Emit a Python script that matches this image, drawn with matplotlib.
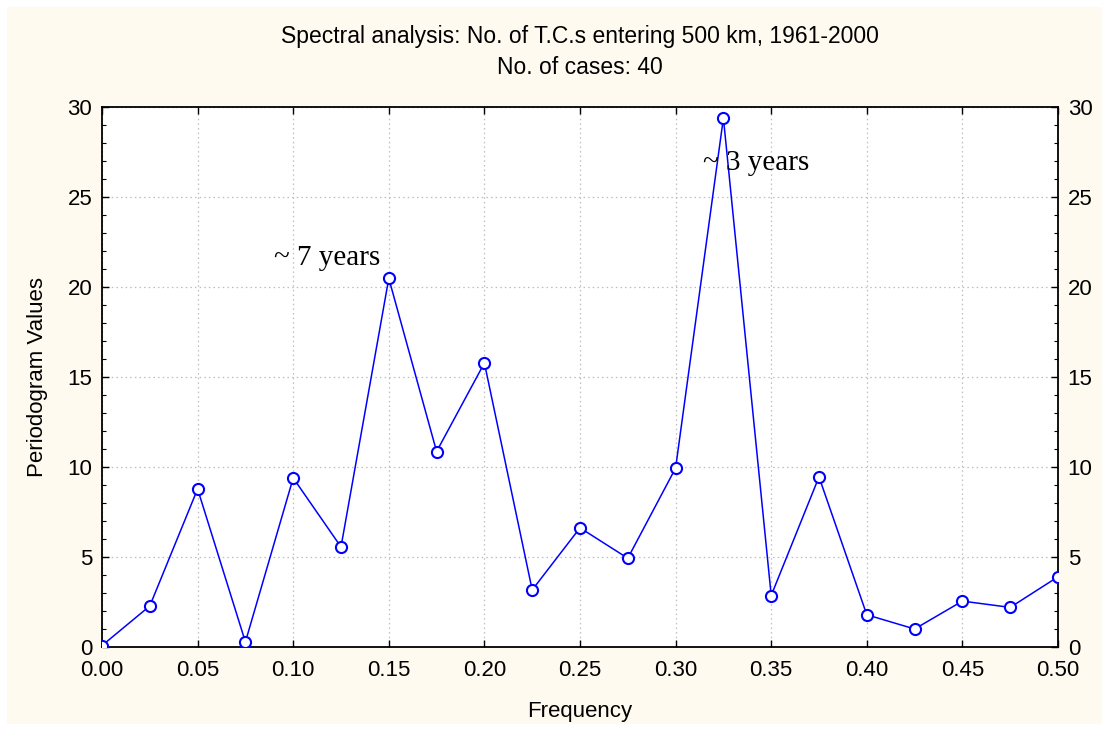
import matplotlib
matplotlib.use("Agg")
import matplotlib.pyplot as plt
from matplotlib.patches import Rectangle
from matplotlib.ticker import MultipleLocator, FormatStrFormatter

plt.rcParams["font.family"] = ["Liberation Sans", "DejaVu Sans"]

# periodogram of yearly T.C. counts
freq = [0.000, 0.025, 0.050, 0.075, 0.100, 0.125, 0.150, 0.175, 0.200, 0.225, 0.250,
        0.275, 0.300, 0.325, 0.350, 0.375, 0.400, 0.425, 0.450, 0.475, 0.500]
periodogram = [0.08, 2.28, 8.78, 0.28, 9.39, 5.56, 20.48, 10.86, 15.78, 3.17, 6.62,
               4.93, 9.94, 29.39, 2.86, 9.45, 1.79, 1.0, 2.55, 2.2, 3.9]

peak_labels = ["~ 7 years", "~ 3 years"]
peak_pos = [(0.1175, 21.6), (0.342, 26.9)]

fig = plt.figure(figsize=(11.09, 7.31), dpi=100)
fig.patch.set_facecolor("white")
fig.patches.append(Rectangle((7 / 1109, 7 / 731), 1 - 14 / 1109, 1 - 14 / 731,
                             transform=fig.transFigure, facecolor="#fefaf0",
                             edgecolor="none", zorder=-10))

ax = fig.add_axes([102 / 1109, 84 / 731, 956 / 1109, 540 / 731])
ax.set_zorder(1)
ax.set_facecolor("white")

ax.plot(freq, periodogram, color="#0000ff", lw=1.1, marker="o", markersize=8,
        markerfacecolor="white", markeredgecolor="#0000ff", markeredgewidth=1.5,
        zorder=3)

for txt, (x, y) in zip(peak_labels, peak_pos):
    ax.text(x, y, txt, ha="center", va="center", fontsize=21,
            family=["Liberation Serif", "DejaVu Serif"], zorder=4)

ax.set_xlim(0, 0.5)
ax.set_ylim(0, 30)
ax.xaxis.set_major_locator(MultipleLocator(0.05))
ax.yaxis.set_major_locator(MultipleLocator(5))
ax.yaxis.set_minor_locator(MultipleLocator(1))
ax.xaxis.set_major_formatter(FormatStrFormatter("%.2f"))

ax.grid(True, which="major", color="#bdbdbd", linestyle=(0, (1.2, 2.5)), lw=0.9)
ax.tick_params(which="both", direction="in", top=True, right=True,
               labelright=True, labelsize=16)
ax.tick_params(which="major", length=5, width=1)
ax.tick_params(which="minor", length=3, width=0.8)
ax.tick_params(axis="x", pad=9)
ax.tick_params(axis="y", pad=7)
for s in ax.spines.values():
    s.set_linewidth(1.3)

ax.set_xlabel("Frequency", fontsize=16, labelpad=15)
ax.set_ylabel("Periodogram Values", fontsize=16, labelpad=14)

# titles centred over the plot frame
cx = (102 + 1058) / 2 / 1109
fig.text(cx, 1 - 37 / 731, "Spectral analysis: No. of T.C.s entering 500 km, 1961-2000",
         ha="center", va="center", fontsize=16.5)
fig.text(cx, 1 - 68 / 731, "No. of cases: 40", ha="center", va="center", fontsize=16.5)

fig.savefig("out.png", dpi=100, facecolor=fig.get_facecolor())
